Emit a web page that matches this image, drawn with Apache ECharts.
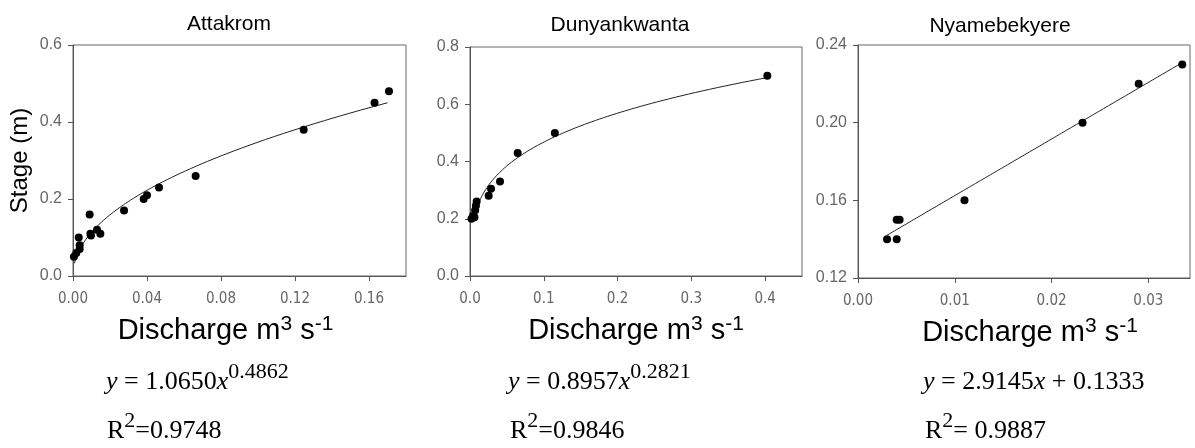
<!DOCTYPE html>
<html><head><meta charset="utf-8">
<script src="https://cdn.jsdelivr.net/npm/echarts@6/dist/echarts.min.js"></script>
<style>html,body{margin:0;padding:0;background:#fff}#c{width:1195px;height:448px}</style>
</head><body><div id="c"></div>
<script>
// ---- Data ----
const titles = ['Attakrom', 'Dunyankwanta', 'Nyamebekyere'];

const attakromQ = [0.0005, 0.0018, 0.0031, 0.0036, 0.0036, 0.0090, 0.0094, 0.0097, 0.0130, 0.0148, 0.0276, 0.0382, 0.0400, 0.0465, 0.0663, 0.1247, 0.1630, 0.1708];
const attakromH = [0.05, 0.06, 0.10, 0.08, 0.07, 0.16, 0.11, 0.105, 0.12, 0.11, 0.17, 0.20, 0.21, 0.23, 0.26, 0.38, 0.45, 0.48];

const dunyanQ = [0.002, 0.004, 0.006, 0.007, 0.008, 0.009, 0.0253, 0.0285, 0.0407, 0.0646, 0.115, 0.403];
const dunyanH = [0.20, 0.21, 0.205, 0.23, 0.245, 0.26, 0.28, 0.305, 0.33, 0.43, 0.50, 0.70];

const nyameQ = [0.0030, 0.0040, 0.0040, 0.0043, 0.0110, 0.0232, 0.0290, 0.0335];
const nyameH = [0.14, 0.14, 0.15, 0.15, 0.16, 0.20, 0.22, 0.23];

// fitted trend lines as printed on the chart
const attakromFit = {type: 'power', a: 1.0650, b: 0.4862, from: 0.0008, to: 0.170};
const dunyanFit   = {type: 'power', a: 0.8957, b: 0.2821, from: 0.010, to: 0.403};
const nyameFit    = {type: 'linear', a: 2.9145, b: 0.1333, from: 0.0030, to: 0.0335};

// axes
const xTicks1 = [0, 0.04, 0.08, 0.12, 0.16];
const xTicks2 = [0, 0.1, 0.2, 0.3, 0.4];
const xTicks3 = [0, 0.01, 0.02, 0.03];
const yTicks1 = [0, 0.2, 0.4, 0.6];
const yTicks2 = [0, 0.2, 0.4, 0.6, 0.8];
const yTicks3 = [0.12, 0.16, 0.20, 0.24];

function fitLine(f) {
  const pts = [];
  const n = 120;
  for (let i = 0; i <= n; i++) {
    let x;
    if (f.type === 'power') x = f.from * Math.pow(f.to / f.from, i / n);
    else x = f.from + (f.to - f.from) * i / n;
    const y = f.type === 'power' ? f.a * Math.pow(x, f.b) : f.a * x + f.b;
    pts.push([x, y]);
  }
  return pts;
}
function zip(a, b) { return a.map((v, i) => [v, b[i]]); }

const grids = [
  {left: 73, top: 45, width: 333, height: 231},
  {left: 470, top: 47, width: 332, height: 229},
  {left: 858, top: 45, width: 332, height: 233}
];
const axisColor = '#555';
const labelColor = '#666';
const nameShift = [[0, 28, 0, 0], [0, 0, 0, 0], [0, 0, 0, 12]];

function xAxis(i, max, ticks, dec) {
  return {
    type: 'value', gridIndex: i, min: 0, max: max,
    axisLine: {show: true, onZero: false, lineStyle: {color: axisColor, width: 1}},
    axisTick: {show: true, length: 5, customValues: ticks, lineStyle: {color: axisColor}},
    axisLabel: {customValues: ticks, formatter: v => v.toFixed(dec), color: labelColor,
      fontFamily: '"DejaVu Sans Condensed", "Liberation Sans"', fontSize: 15, margin: 16},
    splitLine: {show: false},
    name: '{a|Discharge m}{s|3}{a| s}{s|-1}', nameLocation: 'middle', nameGap: 38,
    nameTextStyle: {padding: nameShift[i], rich: {
      a: {fontSize: 29, fontFamily: 'Liberation Sans', color: '#000', lineHeight: 34},
      s: {fontSize: 21, fontFamily: 'Liberation Sans', color: '#000', verticalAlign: 'top', lineHeight: 15}
    }}
  };
}
function yAxis(i, min, max, ticks, dec, name) {
  const o = {
    type: 'value', gridIndex: i, min: min, max: max,
    axisLine: {show: true, onZero: false, lineStyle: {color: axisColor, width: 1}},
    axisTick: {show: true, length: 5, customValues: ticks, lineStyle: {color: axisColor}},
    axisLabel: {customValues: ticks, formatter: v => v.toFixed(dec), color: labelColor,
      fontFamily: 'Liberation Sans', fontSize: 16, margin: 11},
    splitLine: {show: false}
  };
  if (name) {
    o.name = name; o.nameLocation = 'middle'; o.nameGap = 41; o.nameRotate = 90;
    o.nameTextStyle = {fontSize: 24, fontFamily: 'Liberation Sans', color: '#000'};
  }
  return o;
}

const series = [];
[[attakromQ, attakromH, attakromFit], [dunyanQ, dunyanH, dunyanFit], [nyameQ, nyameH, nyameFit]].forEach((d, i) => {
  series.push({type: 'line', xAxisIndex: i, yAxisIndex: i, data: fitLine(d[2]), showSymbol: false,
    lineStyle: {color: '#222', width: 1}, silent: true, animation: false, z: 2});
  series.push({type: 'scatter', xAxisIndex: i, yAxisIndex: i, data: zip(d[0], d[1]), symbolSize: 8,
    itemStyle: {color: '#000', opacity: 1}, animation: false, z: 3});
});

const serif = 'Liberation Serif';
const eqRich = {
  i: {fontStyle: 'italic', fontFamily: serif, fontSize: 26, lineHeight: 34, verticalAlign: 'bottom'},
  n: {fontFamily: serif, fontSize: 26, lineHeight: 34, verticalAlign: 'bottom'},
  s: {fontFamily: serif, fontSize: 22, lineHeight: 34, verticalAlign: 'top'}
};
function eqText(x, y, text) {
  return {type: 'text', x: x, y: y, style: {text: text, rich: eqRich, fill: '#000',
    fontFamily: serif, fontSize: 26, lineHeight: 34, align: 'left', verticalAlign: 'top'}};
}
const titleX = [229, 620, 1000];
const titleY = [24, 25, 26];
const graphics = titles.map((t, i) => ({type: 'text', x: titleX[i], y: titleY[i],
  style: {text: t, fontFamily: 'Liberation Sans', fontSize: 21, fill: '#000', align: 'center', verticalAlign: 'middle'}}));
graphics.push(
  eqText(106, 361, '{i|y}{n| = 1.0650}{i|x}{s|0.4862}'),
  eqText(107, 410, '{n|R}{s|2}{n|=0.9748}'),
  eqText(508, 361, '{i|y}{n| = 0.8957}{i|x}{s|0.2821}'),
  eqText(510, 410, '{n|R}{s|2}{n|=0.9846}'),
  eqText(923, 361, '{i|y}{n| = 2.9145}{i|x}{n| + 0.1333}'),
  eqText(925, 410, '{n|R}{s|2}{n|= 0.9887}')
);

const chart = echarts.init(document.getElementById('c'));
chart.setOption({
  animation: false,
  backgroundColor: '#fff',
  grid: grids.map(g => Object.assign({show: true, borderColor: '#666', borderWidth: 1, containLabel: false}, g)),
  xAxis: [xAxis(0, 0.18, xTicks1, 2), xAxis(1, 0.45, xTicks2, 1), xAxis(2, 0.0343, xTicks3, 2)],
  yAxis: [yAxis(0, 0, 0.6, yTicks1, 1, 'Stage (m)'), yAxis(1, 0, 0.8, yTicks2, 1), yAxis(2, 0.12, 0.24, yTicks3, 2)],
  series: series,
  graphic: graphics
});
</script></body></html>
